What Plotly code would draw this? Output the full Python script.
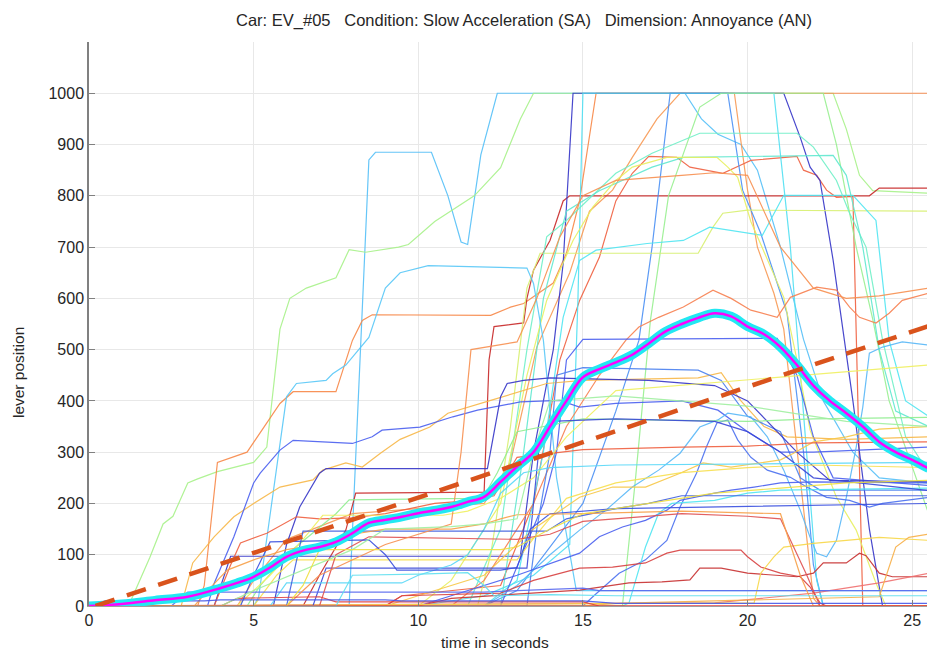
import plotly.graph_objects as go

# ---------------- data ----------------
title_text = "Car: EV_#05   Condition: Slow Acceleration (SA)   Dimension: Annoyance (AN)"
x_label = "time in seconds"
y_label = "lever position"
x_ticks = [0, 5, 10, 15, 20, 25]
y_ticks = [0, 100, 200, 300, 400, 500, 600, 700, 800, 900, 1000]

# individual respondents: breakpoint times (s) and lever positions
respondent_t = [
    [0,7.9,8.5,8.7,10.4,10.9,11.3,11.5,11.9,12.4,18.1,18.6,19.1,19.8,20.3,21.0,21.7,22.3,23.2,24.0,25.5],
    [0,1.2,1.85,2.25,2.55,3.0,3.3,3.9,5.0,5.4,5.8,6.1,6.6,7.5,7.9,8.4,9.4,9.7,10.5,11.7,12.5,13.1,13.5,22.6,23.0,23.4,23.8,25.5],
    [0,3.3,3.5,3.9,4.8,5.8,6.2,7.5,8.0,8.3,8.6,12.2,12.8,13.2,14.1,14.5,14.9,15.4,25.5],
    [0,4.5,5,6,8,12,12.8,13.6,14.6,15.2,15.9,16.5,17.25,17.95,19.6,20.0,20.3,20.8,21.1,22.0,22.2,25.5],
    [0,6.5,7.0,7.8,8.1,12.0,12.15,12.3,13.2,13.3,13.5,14.0,14.4,14.6,23.7,24.0,25.5],
    [0,9,9.5,12.5,13.5,14.3,14.9,15.5,16.0,16.5,17.0,17.85,18.25,19.25,19.8,20.1,21.5,21.7,22.1,22.4,22.7,23.2,23.35,23.5,25.5],
    [0,12,13,15,16,16.7,17.1,17.65,19.4,19.85,20.4,21.2,21.7,22.0,22.3,25.5],
    [0,3.8,4.3,13.1,13.5,14.1,14.4,14.7,21.1,21.6,21.9,22.2,22.6,23.2,23.7,24.1,25.5],
    [0,10,12,13.5,14.6,14.85,15.0,20.8,21.3,21.8,22.1,22.3,25.5],
    [0,16.2,16.6,17.05,17.6,18.55,19.2,22.3,22.7,23.3,23.8,24.3,25.5],
    [0,11.8,12.2,12.8,13.3,13.7,18.5,18.95,19.25,20,25.5],
    [0,12,13,13.8,14.4,14.9,15.4,16.95,18.05,18.85,20.45,21.1,23.2,23.9,24.3,24.8,25.5],
    [0,11.5,12.5,13.3,13.9,14.5,16.0,17.1,18.55,21.5,22,22.7,23.1,23.6,24.1,24.8,25.5],
    [0,12.5,13.2,13.8,14.5,15.5,17.1,18.05,22.6,23.0,23.5,24.0,24.5,25.5],
    [0,10,11,12.5,13.3,13.9,14.7,15.3,16,16.5,17.55,19.07,19.4,19.7,20.1,21.1,21.5,21.9,22.7,23.3,23.9,24.2,25.5],
    [0,11,12,13.5,14.5,15.5,16.3,16.7,17.3,18.05,18.95,19.5,20.1,20.9,21.3,22.1,22.7,23.1,23.4,23.9,24.3,24.7,25.5],
    [0,5.0,5.15,6.0,6.3,7.2,7.4,7.8,8.5,9.0,9.45,10.3,13.3,13.5,13.8,14.2,14.8,25.5],
    [0,12.5,13.8,14.2,14.5,15.0,20.9,21.5,22.0,22.6,25.5],
    [0,2.8,3.15,3.8,4.4,5,5.8,6.8,7.1,7.8,8.3,8.85,9.45,10.35,10.9,11.5,12.2,13.9,15,18.5,19.2,19.8,20.5,21.2,23,25.5],
    [0,13.3,13.6,14.0,14.2,15,18.5,19.2,20,21,21.6,22.2,25.5],
    [0,3.6,3.8,4.4,5.0,5.2,5.8,6.2,8.0,8.6,8.9,10.05,11.05,11.8,13.1,14.3,14.9,16,18,19.1,20,21,22,25.5],
    [0,5.6,6.0,6.4,7.0,7.2,12.1,12.5,12.7,13.2,14,17,19,20,21.5,22.5,25.5],
    [0,12,13,14,14.9,15.7,16.5,17.3,17.95,18.55,19.1,19.4,20.1,20.6,21.1,21.6,21.9,22.1,22.4,22.7,23.0,23.3,23.5,23.7,24.1,24.7,25.5],
    [0,10,11,13,14.9,15.5,16.2,16.9,17.55,17.95,19,19.5,20.2,21,22,25.5],
    [0,15,15.3,16.1,16.9,17.55,17.95,18.45,18.75,19.07,19.4,19.7,20.1,20.6,21.3,21.8,22.4,23.1,23.7,24.1,25.5],
    [0,16.2,16.4,16.9,17.3,17.7,19,20,21,25.5],
    [0,9,10,12,13.5,14.9,15.9,16.9,17.95,18.65,19.5,21,21.4,22,23,24,25.5],
    [0,9,9.5,12.5,13.5,14.9,15.9,16.9,17.55,17.95,19.8,20,20.4,21,21.6,21.9,22.2,22.4,25.5],
    [0,10,11,14.9,16.4,17.4,18.25,18.55,19.2,20,21.5,22,22.3,23,23.4,23.6,24,24.4,25.5],
    [0,19,22,24,25.5],
    [0,20.2,20.4,20.8,21.1,22,23,24,25.5],
    [0,3.8,4.3,4.6,5.4,6.3,7.0,8.0,9.0,10.5,11.5,12.3,13.0,15,18,20,22,25.5],
    [0,4.8,5.2,6.0,7.5,7.9,11.5,12.0,12.4,13.0,15,18,20,22,25.5],
    [0,4.5,5.5,6.5,7.1,10.75,11.5,12.5,13.5,14.5,16,25.5],
    [0,5,5.7,6.2,13,13.6,14.5,16,18,20,22,25.5],
    [0,6.8,7.2,13.3,13.5,13.7,14.0,16,19,20,21,22,25.5],
    [0,5.5,6.0,9.5,10,11.0,11.5,12.0,12.5,13.2,14,16,25.5],
    [0,2.5,3.0,12,13,15,15.5,25.5],
    [0,6,6.5,8.8,13.9,14.5,16,17,18,25.5],
    [0,7,7.5,8.5,13,14,15,16,18,20,21,21.8,22.2,25.5],
    [0,6,7,9,11.0,11.3,11.6,13.0,13.6,14.3,15.0,16,18,19,20,21,22,23,24,25.5],
    [0,15,16,24.0,24.5,24.9,25.5],
    [0,4,4.5,7,7.5,15,15.5,25.5],
    [0,4.6,5.0,5.5,8.5,9.0,9.35,12.5,13.0,13.4,14,16,25.5],
    [0,3.2,3.6,4.2,5,6,7,8,9,11,12,12.5,13,15,18,21,21.6,22,25.5],
    [0,7.5,8,10,11.5,12,12.3,14,16,25.5],
    [0,4,5,6.5,8,9,11,12,13,13.5,14,16,20,22,23,25.5],
    [0,6,6.5,7,12.5,13,14,15,17,19,21,23,25.5],
    [0,0.5,3.5,4,9,9.5,15,16,25.5],
    [0,25.5],
]
respondent_y = [
    [0,0,870,885,885,800,710,705,880,1000,1000,950,920,900,850,700,520,400,300,250,240],
    [0,0,95,160,175,240,248,262,280,310,540,600,620,640,695,690,700,705,750,800,855,950,1000,1000,930,840,810,805],
    [0,0,40,280,300,395,418,418,518,557,568,567,583,590,630,688,791,1000,1000],
    [0,0,50,130,180,200,280,505,650,770,811,875,950,1000,1000,811,700,610,540,15,0,0],
    [0,0,60,148,220,222,480,545,552,600,655,713,790,800,800,815,815],
    [0,0,20,40,200,480,596,680,790,844,877,875,856,844,860,869,877,850,840,811,797,799,400,0,0],
    [0,0,30,200,380,518,700,1000,1000,811,727,571,300,80,0,0],
    [0,0,97,97,300,500,668,1000,1000,914,856,830,674,400,150,0,0],
    [0,0,20,60,120,600,1000,1000,700,300,50,0,0],
    [0,0,250,557,800,973,1000,1000,900,700,560,400,180],
    [0,0,100,350,620,688,688,739,766,772,770],
    [0,0,50,300,563,674,694,707,713,739,723,801,801,752,518,400,370],
    [0,0,150,500,720,752,844,883,922,922,895,830,766,700,519,330,260],
    [0,0,300,600,770,810,856,875,879,840,700,500,380,350],
    [0,0,50,200,450,596,713,778,830,856,875,875,856,836,750,602,480,343,212,148,45,0,0],
    [0,0,50,200,350,450,518,544,563,583,616,600,577,563,602,622,616,583,563,552,571,596,610],
    [0,0,17,408,434,440,453,470,524,620,650,664,659,629,518,250,30,30],
    [0,0,200,300,480,520,522,450,330,250,235],
    [0,0,84,135,174,200,232,246,265,279,271,298,325,349,376,388,401,434,440,445,455,400,350,330,325,330],
    [0,0,150,300,450,465,460,440,370,340,250,226,226],
    [0,0,44,135,240,259,304,323,317,330,343,349,369,382,398,401,388,395,400,382,340,300,300,310],
    [0,0,120,193,259,268,268,408,434,440,445,440,430,400,300,245,242],
    [0,0,40,100,148,187,232,265,298,349,363,376,369,330,265,187,134,103,96,128,212,310,388,493,505,515,509],
    [0,0,20,60,103,135,154,167,187,206,220,226,232,240,242,240],
    [0,0,18,64,90,128,193,259,310,357,363,324,290,265,251,232,212,206,193,200,212],
    [0,0,6,115,181,200,206,220,226,230],
    [0,0,20,60,150,212,232,232,259,279,271,285,298,320,330,345,350],
    [0,0,20,25,50,74,76,84,103,109,109,96,76,64,57,37,6,0,0],
    [0,0,15,31,45,47,51,74,74,64,57,64,84,84,103,98,64,57,57],
    [0,6,25,45,64],
    [0,6,64,96,115,122,128,134,128],
    [0,0,80,123,142,174,170,172,180,200,205,215,290,305,310,312,318,320],
    [0,0,40,100,180,207,210,215,260,340,365,362,360,365,368],
    [0,0,60,130,177,177,185,210,250,330,420,470],
    [0,0,60,90,90,140,210,240,260,270,275,270],
    [0,0,74,74,200,330,360,365,360,340,300,250,225],
    [0,0,45,45,60,80,100,150,220,260,270,275,280],
    [0,0,27,27,30,35,30,30],
    [0,0,146,146,146,170,190,200,215,215],
    [0,0,100,135,130,140,165,170,180,175,170,60,0,0],
    [0,0,60,120,160,300,500,515,600,720,800,830,840,845,840,700,620,600,605,620],
    [0,0,5,18,115,134,140],
    [0,0,15,18,8,8,0,0],
    [0,0,60,125,129,100,70,70,75,150,180,190,200],
    [0,0,30,70,90,110,120,140,150,150,160,170,178,180,185,180,60,0,0],
    [0,0,60,62,65,40,20,22,20,20],
    [0,0,30,70,110,150,155,160,170,300,400,410,390,370,360,350],
    [0,0,40,110,110,115,150,180,200,220,230,240,245],
    [0,10,10,12,12,10,10,5,5],
    [0,0],
]
respondent_colors = [
    "#55c0f8", "#a8f28a", "#f88848", "#f89a55", "#c82828", "#f06040",
    "#4a90f5", "#3535c8", "#50e0f2", "#98f090", "#d8f070", "#50e6f2",
    "#70f0c8", "#60e8d0", "#e8f060", "#f88050", "#58c8f8", "#4a5ff0",
    "#f8b848", "#4a80f0", "#4a5ff0", "#3535c8", "#58b8f8", "#4a5ff0",
    "#4a70f0", "#50e6f2", "#f8c848", "#d84040", "#c83030", "#f07070",
    "#f8d848", "#f06040", "#90ee90", "#f0f060", "#f8e050", "#3a48d8",
    "#58d8f8", "#5a6af0", "#4060e0", "#e05050", "#f89050", "#f8b048",
    "#e04040", "#3a50e0", "#f8a048", "#60e0f0", "#a0f0a0", "#f0e040",
    "#4858e8", "#e83030",
]

mean_t = [0,1,2,3,4,4.5,5,5.5,6,6.5,7,7.5,8,8.5,9,9.5,10,11,11.5,12,12.5,13,13.5,14,14.5,15,15.5,16,16.5,17,17.5,18,18.5,19,19.5,20,20.5,21,21.5,22,22.5,23,23.5,24,24.5,25,25.5]
mean_y = [0,4,11,18,35,45,57,75,96,108,115,125,142,162,168,174,181,193,203,213,242,272,300,350,400,446,462,475,490,512,535,550,562,571,565,545,530,505,470,430,400,376,350,320,300,285,268]

trend_t = [0.2, 25.5]
trend_y = [0, 546]

# ---------------- figure ----------------
fig = go.Figure()

for tt, yy, cc in zip(respondent_t, respondent_y, respondent_colors):
    fig.add_trace(go.Scatter(x=tt, y=yy, mode="lines",
                             line=dict(color=cc, width=1.2),
                             opacity=0.9, hoverinfo="skip", showlegend=False))

fig.add_trace(go.Scatter(x=mean_t, y=mean_y, mode="lines", line_shape="spline",
                         line=dict(color="#22e8f2", width=9), showlegend=False))
fig.add_trace(go.Scatter(x=mean_t, y=mean_y, mode="lines", line_shape="spline",
                         line=dict(color="#ff00ff", width=2.5), showlegend=False))
fig.add_trace(go.Scatter(x=trend_t, y=trend_y, mode="lines",
                         line=dict(color="#d9531c", width=4.5, dash="20px,13px"),
                         showlegend=False))

FONT = "Arial, Liberation Sans, sans-serif"
tick_font = dict(family=FONT, size=16, color="#262626")
label_font = dict(family=FONT, size=15.5, color="#262626")

fig.update_layout(
    width=927, height=651,
    margin=dict(l=89, r=0, t=42, b=45),
    paper_bgcolor="white", plot_bgcolor="white",
    font=tick_font,
    title=dict(text=title_text, x=(524 - 89) / 838, xref="paper", xanchor="center",
               y=0.969, yanchor="middle",
               font=dict(family=FONT, size=16.5, color="#262626")),
    showlegend=False,
    annotations=[
        dict(text=x_label, xref="paper", yref="paper", x=(495 - 89) / 838, y=-0.0656,
             xanchor="center", yanchor="middle", showarrow=False, font=label_font),
        dict(text=y_label, xref="paper", yref="paper", x=(18 - 89) / 838, y=0.413,
             xanchor="center", yanchor="middle", textangle=-90, showarrow=False,
             font=label_font),
    ],
)
fig.update_xaxes(range=[0, 25.45], tickvals=x_ticks, ticks="inside", ticklen=6,
                 tickcolor="#808080", showline=True, linecolor="#a0a0a0", linewidth=1,
                 showgrid=True, gridcolor="#e8e8e8", gridwidth=1, zeroline=False,
                 tickfont=tick_font)
fig.update_yaxes(range=[0, 1100], tickvals=y_ticks, ticks="inside", ticklen=6,
                 tickcolor="#808080", showline=True, linecolor="#808080", linewidth=1.5,
                 showgrid=True, gridcolor="#e8e8e8", gridwidth=1, zeroline=False,
                 tickfont=tick_font)

fig.write_html("out.html")
